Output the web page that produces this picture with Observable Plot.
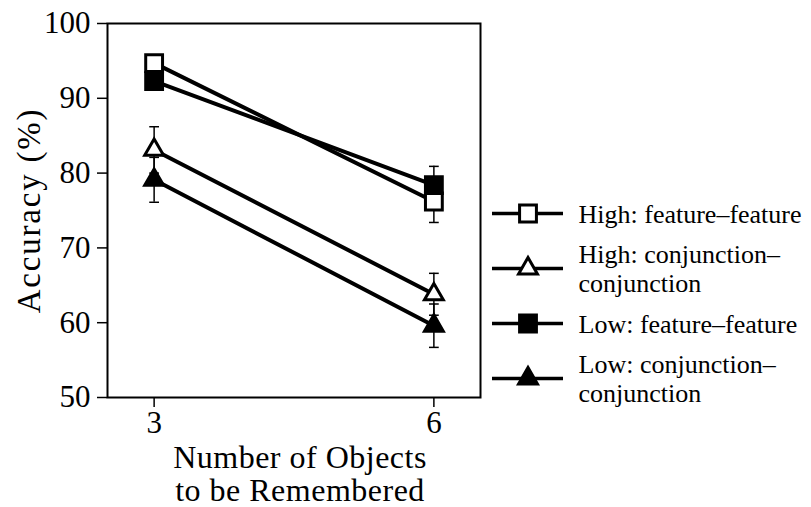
<!DOCTYPE html>
<html><head><meta charset="utf-8">
<script src="https://cdn.jsdelivr.net/npm/d3@7"></script>
<script src="https://cdn.jsdelivr.net/npm/@observablehq/plot@0.6"></script>
<style>
body{margin:0;background:#fff;}
#wrap{position:relative;width:811px;height:507px;background:#fff;}
#main{position:absolute;left:0;top:0;}
#legend{position:absolute;left:485px;top:170px;}
</style></head><body><div id="wrap"><div id="main"></div><div id="legend"></div></div>
<script>
// ---- data ----
const setSizes = [3, 6];
const seriesNames = ["High: feature–feature", "High: conjunction–conjunction", "Low: feature–feature", "Low: conjunction–conjunction"];
const legendLabels = ["High: feature–feature", "High: conjunction–\nconjunction", "Low: feature–feature", "Low: conjunction–\nconjunction"];
const highFeature = [94.7, 76.2];
const highFeatureErr = [1.0, 2.8];
const highConj = [83.1, 63.8];
const highConjErr = [3.1, 2.8];
const lowFeature = [92.3, 78.4];
const lowFeatureErr = [1.0, 2.5];
const lowConj = [79.1, 59.6];
const lowConjErr = [3.0, 2.9];
const yTicks = [50, 60, 70, 80, 90, 100];
const xTicks = [3, 6];
const xTitle = "Number of Objects\nto be Remembered";
const yTitle = "Accuracy (%)";

// ---- styles ----
const seriesSymbols = ["square", "triangle", "square", "triangle"];
const seriesFills = ["white", "white", "black", "black"];
const seriesR = {square: 9.5, triangle: 7};

const values = [highFeature, highConj, lowFeature, lowConj];
const errs = [highFeatureErr, highConjErr, lowFeatureErr, lowConjErr];

const rows = seriesNames.flatMap((name, s) => setSizes.map((n, i) => ({
  series: name, s, n, acc: values[s][i], lo: values[s][i] - errs[s][i], hi: values[s][i] + errs[s][i]
})));

const capSymbol = {draw(ctx, size) { const w = Math.sqrt(size) / 2; ctx.moveTo(-w, 0); ctx.lineTo(w, 0); }};
const font = "'Liberation Serif', 'Times New Roman', Times, serif";

const markerMarks = seriesNames.map((name, s) => Plot.dot(rows.filter(d => d.s === s), {
  x: "n", y: "acc", symbol: seriesSymbols[s], r: seriesR[seriesSymbols[s]],
  fill: seriesFills[s], stroke: "black", strokeWidth: 3
}));

const main = Plot.plot({
  width: 811, height: 507,
  marginLeft: 107, marginRight: 331, marginTop: 23, marginBottom: 110,
  style: {fontFamily: font, fontSize: "31px", background: "white", color: "black"},
  x: {domain: [2.5, 6.5]},
  y: {domain: [50, 100]},
  marks: [
    Plot.axisY(yTicks, {tickSize: 10, tickPadding: 7, strokeWidth: 1.5, fontSize: 31, label: null}),
    Plot.axisX(xTicks, {tickSize: 10, tickPadding: 3, strokeWidth: 1.5, fontSize: 31, label: null}),
    Plot.frame({strokeWidth: 2}),
    Plot.line(rows, {x: "n", y: "acc", z: "series", stroke: "black", strokeWidth: 4}),
    Plot.ruleX(rows, {x: "n", y1: "lo", y2: "hi", stroke: "black", strokeWidth: 1.5}),
    Plot.dot(rows, {x: "n", y: "lo", symbol: capSymbol, r: 5.5, stroke: "black", strokeWidth: 1.5, fill: "none"}),
    Plot.dot(rows, {x: "n", y: "hi", symbol: capSymbol, r: 5.5, stroke: "black", strokeWidth: 1.5, fill: "none"}),
    ...markerMarks,
    Plot.text([yTitle], {text: d => d, frameAnchor: "left", textAnchor: "middle", rotate: -90, dx: -78, fontSize: 33, className: "ytitle"}),
    Plot.text([xTitle], {text: d => d, frameAnchor: "bottom", lineAnchor: "top", dy: 47, dx: 6, fontSize: 32, lineHeight: 1.03, className: "xtitle"})
  ]
});
d3.select(main).selectAll(".ytitle text").style("letter-spacing", "1.8px");
d3.select(main).selectAll(".xtitle text").style("letter-spacing", "0.5px");
document.getElementById("main").append(main);

const legendRows = seriesNames.map((name, s) => ({name, label: legendLabels[s], s}));
const legend = Plot.plot({
  width: 326, height: 240,
  margin: 0,
  style: {fontFamily: font, fontSize: "26px", background: "transparent", color: "black", overflow: "visible"},
  x: {domain: [0, 1], range: [7, 78], axis: null},
  y: {type: "point", domain: seriesNames, range: [42, 209], padding: 0, axis: null},
  marks: [
    Plot.ruleY(legendRows, {y: "name", x1: 0, x2: 1, stroke: "black", strokeWidth: 3.5}),
    ...seriesNames.map((name, s) => Plot.dot(legendRows.filter(d => d.s === s), {
      x: 0.5, y: "name", symbol: seriesSymbols[s], r: seriesR[seriesSymbols[s]],
      fill: seriesFills[s], stroke: "black", strokeWidth: 3
    })),
    Plot.text(legendRows, {x: 1, y: "name", text: "label", dx: 15, textAnchor: "start", lineHeight: 1.12, fontSize: 26})
  ]
});
document.getElementById("legend").append(legend);
</script></body></html>
